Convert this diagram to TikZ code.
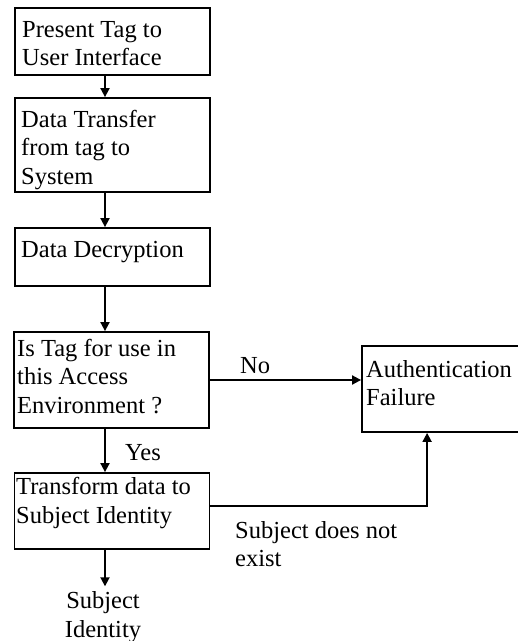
\documentclass[tikz,border=0pt]{standalone}
\usepackage{fontspec}
\setmainfont{Liberation Serif}
\usetikzlibrary{arrows.meta,calc}
\begin{document}
\begin{tikzpicture}[x=1pt,y=-1pt,
  box/.style={draw,line width=1.8pt,inner sep=0pt,minimum width=195pt},
  txt/.style={anchor=base west,inner sep=0pt,align=left,font=\fontsize{24.5}{28.5}\selectfont},
  lbl/.style={inner sep=0pt,font=\fontsize{24.5}{28.5}\selectfont},
  link/.style={line width=1.8pt},
  arr/.style={link,-{Triangle[length=9pt,width=9pt]}}]
\clip (0,0) rectangle (518,641);
\fill[white] (0,0) rectangle (518,641);

% process boxes
\node[box,minimum height=67pt] (b1) at (112.5,41.5) {};
\node[box,minimum height=94pt] (b2) at (112.5,145) {};
\node[box,minimum height=58pt] (b3) at (112.5,257) {};
\node[box,minimum height=96pt] (b4) at (111.5,380) {};
\node[box,minimum height=76pt] (b5) at (112,511) {};
\node[box,minimum width=183pt,minimum height=86pt] (auth) at (453.5,389) {};

% box texts (anchored on the baseline of their last line)
\node[txt] (t1) at (22,65.5) {Present Tag to\\User Interface};
\node[txt] (t2) at (21,184) {Data Transfer\\from tag to\\System};
\node[txt] (t3) at (21,257) {Data Decryption};
\node[txt] (t4) at (17,413) {Is Tag for use in\\this Access\\Environment ?};
\node[txt] (t5) at (16,523) {Transform data to\\Subject Identity};
\node[txt] (t6) at (366,405.5) {Authentication\\Failure};

% free labels
\node[lbl,anchor=base west] (no) at (240,373) {No};
\node[lbl,anchor=base west] (yes) at (125,460) {Yes};
\node[lbl,anchor=base west,align=left] (nex) at (235,566.5) {Subject does not\\exist};
\node[lbl,anchor=base,align=center] (subj) at (103,637) {Subject\\Identity};

% flow
\coordinate (ax) at (105,0);
\draw[arr] (b1.south -| ax) -- (b2.north -| ax);
\draw[arr] (b2.south -| ax) -- (b3.north -| ax);
\draw[arr] (b3.south -| ax) -- (b4.north -| ax);
\draw[arr] (b4.south -| ax) -- (b5.north -| ax);
\draw[arr] (b5.south -| ax) -- ([yshift=5pt]subj.north -| ax);
\draw[arr] (b4.east) -- (auth.west |- b4.east);
\coordinate (up) at ($(auth.south west)+(66,0)$);
\draw[arr] ([yshift=5pt]b5.east) -| (up);
\end{tikzpicture}
\end{document}
